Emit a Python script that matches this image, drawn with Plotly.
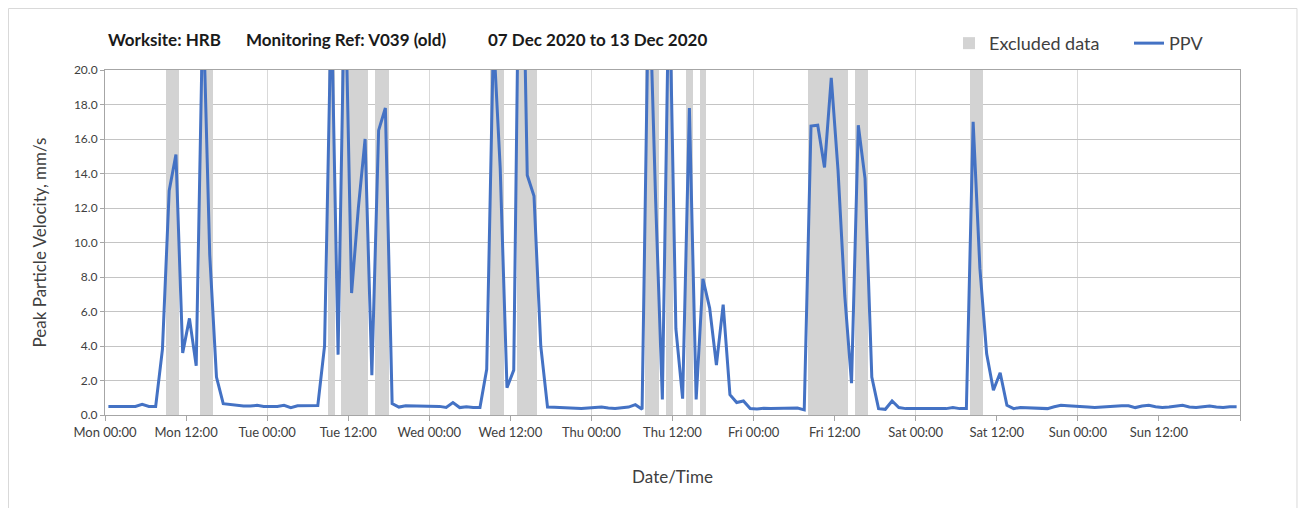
import pandas as pd
import plotly.graph_objects as go

# ---------------- data ----------------
START = "2020-12-07 00:30"          # hourly readings (Mon 07 Dec 2020)
ppv = [
    0.5, 0.5, 0.5, 0.5, 0.5, 0.62, 0.5, 0.5, 3.8, 13.0,          # 0-9
    15.1, 3.6, 5.6, 2.85, 24.0, 9.3, 2.2, 0.66, 0.6, 0.56,       # 10-19
    0.52, 0.52, 0.56, 0.5, 0.5, 0.5, 0.56, 0.43, 0.54, 0.54,     # 20-29
    0.54, 0.55, 4.0, 24.0, 3.5, 26.0, 7.07, 12.0, 16.0, 2.3,     # 30-39
    16.5, 17.8, 0.66, 0.46, 0.54, 0.54, 0.5, 0.5, 0.54, 0.5,     # 40-49
    0.44, 0.72, 0.43, 0.48, 0.44, 0.44, 2.65, 22.0, 14.3, 1.58,  # 50-59
    2.6, 35.0, 13.9, 12.7, 4.0, 0.46, 0.45, 0.43, 0.4, 0.4,      # 60-69
    0.37, 0.4, 0.43, 0.46, 0.4, 0.38, 0.42, 0.46, 0.6, 0.33,     # 70-79
    26.0, 12.5, 0.9, 26.0, 5.0, 0.95, 17.8, 0.9, 7.9, 6.2,       # 80-89
    2.9, 6.4, 1.18, 0.72, 0.81, 0.37, 0.35, 0.39, 0.37, 0.37,    # 90-99
    0.37, 0.37, 0.4, 0.3, 16.75, 16.8, 14.35, 19.55, 14.2, 6.9,  # 100-109
    1.85, 16.8, 13.7, 2.2, 0.37, 0.33, 0.81, 0.43, 0.37, 0.37,   # 110-119
    0.37, 0.33, 0.33, 0.37, 0.37, 0.43, 0.37, 0.37, 17.0, 8.5,   # 120-129
    3.55, 1.43, 2.45, 0.56, 0.37, 0.44, 0.43, 0.43, 0.41, 0.37,  # 130-139
    0.48, 0.56, 0.54, 0.5, 0.5, 0.46, 0.43, 0.46, 0.5, 0.52,     # 140-149
    0.54, 0.54, 0.43, 0.52, 0.56, 0.48, 0.44, 0.46, 0.52, 0.56,  # 150-159
    0.46, 0.44, 0.48, 0.52, 0.46, 0.44, 0.48, 0.48,              # 160-167
]
# hour indices flagged as excluded data
excluded_idx = [9, 10, 14, 15, 33, 35, 36, 37, 38, 40, 41, 57, 58, 61, 62, 63,
                80, 81, 83, 86, 88, 104, 105, 106, 107, 108, 109, 111, 112, 128, 129]

title_parts = ["Worksite: HRB", "Monitoring Ref: V039 (old)", "07 Dec 2020 to 13 Dec 2020"]
y_title = "Peak Particle Velocity, mm/s"
x_title = "Date/Time"
Y_MAX = 20

times = pd.date_range(START, periods=len(ppv), freq="h")
x_start = pd.Timestamp("2020-12-07 00:00")
x_end = pd.Timestamp("2020-12-14 00:00")
excl_times = [times[i] for i in excluded_idx]
label_ticks = pd.date_range(x_start, x_end - pd.Timedelta(hours=12), freq="12h")

FONT = "Lato"
TXT = "#404040"

fig = go.Figure()
fig.add_trace(go.Bar(
    x=excl_times, y=[Y_MAX] * len(excl_times), name="Excluded data",
    width=3600000, marker=dict(color="#D3D3D3", line=dict(width=0)),
    xaxis="x", yaxis="y", hoverinfo="skip",
))
fig.add_trace(go.Scatter(
    x=times, y=ppv, name="PPV", mode="lines",
    line=dict(color="#4472C4", width=3),
    xaxis="x2", yaxis="y",
))

fig.update_layout(
    width=1298, height=500,
    margin=dict(l=97, r=66, t=62, b=93, autoexpand=False),
    paper_bgcolor="white", plot_bgcolor="white",
    font=dict(family=FONT, color=TXT, size=13),
    bargap=0,
    showlegend=True,
    legend=dict(orientation="h", x=0.7436, y=1.077, xanchor="left", yanchor="middle",
                font=dict(size=18, color=TXT, family=FONT), bgcolor="rgba(0,0,0,0)",
                itemwidth=30, entrywidth=135, traceorder="normal"),
    xaxis=dict(
        range=[x_start, x_end], type="date", dtick=86400000, tick0=x_start,
        showgrid=True, gridcolor="#D9D9D9", gridwidth=1,
        showticklabels=False, ticks="", showline=False, zeroline=False,
    ),
    xaxis2=dict(
        range=[x_start, x_end], type="date", overlaying="x", anchor="y", side="bottom",
        tickmode="array", tickvals=list(label_ticks), tickformat="%a %H:%M",
        showgrid=False, ticks="outside", ticklen=5, tickcolor="#A6A6A6",
        minor=dict(dtick=43200000, tick0=x_start, ticks="outside", ticklen=5,
                   tickcolor="#A6A6A6", showgrid=False),
        showline=True, linecolor="#A6A6A6", linewidth=1, mirror=True,
        tickfont=dict(size=13, color=TXT, family=FONT),
        title=dict(text=x_title, font=dict(size=17, color=TXT, family=FONT), standoff=32),
    ),
    yaxis=dict(
        range=[0, Y_MAX], dtick=2, tickformat=".1f",
        showgrid=True, gridcolor="#C4C4C4", gridwidth=1,
        ticks="outside", ticklen=4, tickcolor="#A6A6A6",
        showline=True, linecolor="#A6A6A6", linewidth=1, mirror=True, zeroline=False,
        tickfont=dict(size=12, color=TXT, family=FONT),
        title=dict(text=y_title, font=dict(size=17, color=TXT, family=FONT), standoff=22),
    ),
)

# outer chart-area border
fig.add_shape(type="rect", xref="paper", yref="paper",
              x0=-0.0850, x1=1.0502, y0=-0.28, y1=1.1783,
              line=dict(color="#D9D9D9", width=1), fillcolor="rgba(0,0,0,0)", layer="below")

# title pieces
for txt, xp in zip(title_parts, [0.0009, 0.1225, 0.3357]):
    fig.add_annotation(text="<b>" + txt + "</b>", xref="paper", yref="paper",
                       x=xp, y=1.087, xanchor="left", yanchor="middle", showarrow=False,
                       font=dict(size=17, color="#1A1A1A", family=FONT))

fig.write_html("out.html")
